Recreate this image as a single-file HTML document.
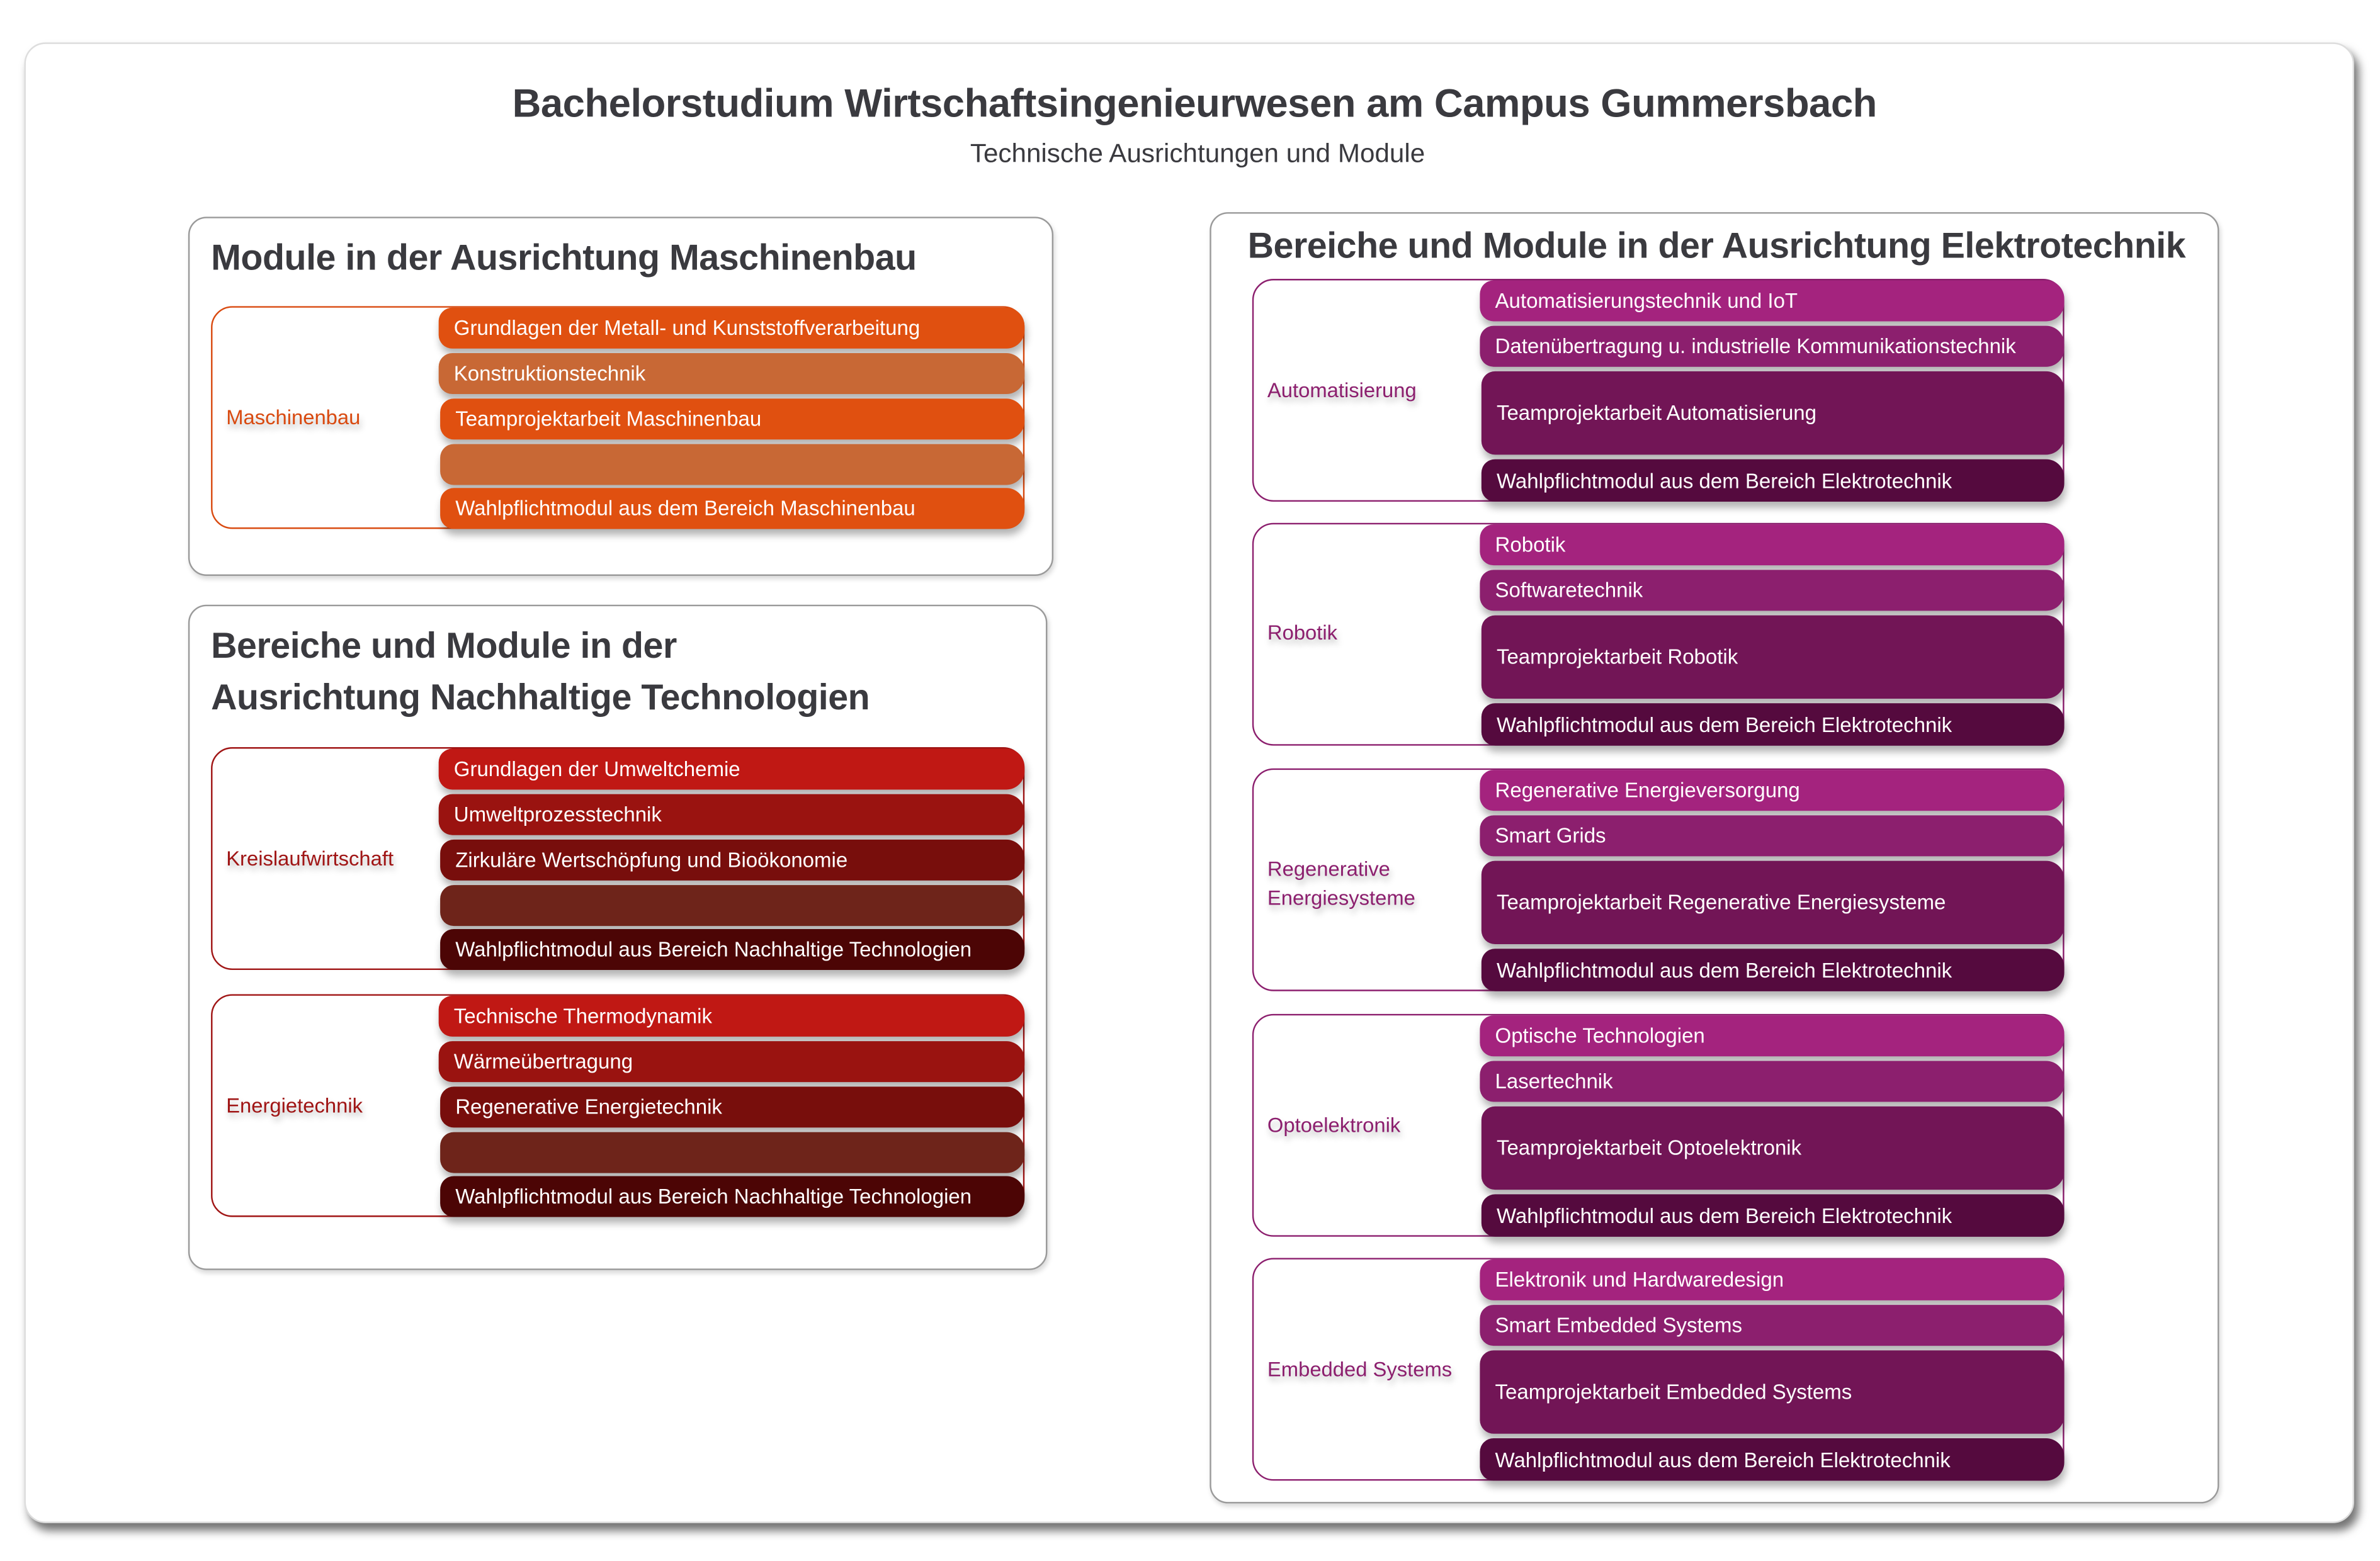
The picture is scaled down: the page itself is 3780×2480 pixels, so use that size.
<!DOCTYPE html>
<html><head><meta charset="utf-8"><style>
html,body{margin:0;padding:0;background:#fff;width:3780px;height:2480px;overflow:hidden}
#w{position:absolute;left:0;top:0;width:1568px;height:1030px;transform:scale(2.4107,2.4078);transform-origin:0 0;font-family:"Liberation Sans",sans-serif;color:#3a3a3f}
.a{position:absolute}
.card{left:16px;top:28px;width:1535px;height:977px;border-radius:14px;background:#fff;box-shadow:3px 5px 6px rgba(0,0,0,.55);border:1px solid #ddd;box-sizing:border-box}
.box{background:#fff;border:1.2px solid #9a9a9a;border-radius:12px;box-sizing:border-box;box-shadow:1px 2px 3px rgba(0,0,0,.15)}
.h{font-weight:bold;font-size:23.8px;white-space:nowrap;letter-spacing:-.2px}
.grp{border:1.6px solid;border-radius:14px;box-sizing:border-box;background:#fff}
.lbl{font-size:13.6px;white-space:nowrap;text-shadow:1px 3px 4px rgba(0,0,0,.25)}
.bar{border-radius:9px 12px 12px 9px;color:#fff;font-size:13.7px;white-space:nowrap;box-sizing:border-box;padding-left:10px;display:flex;align-items:center;box-shadow:1px 4px 5px rgba(0,0,0,.3)}
</style></head><body><div id="w">
<div class="a card"></div>
<div class="a" style="left:0;width:1574px;top:53px;text-align:center;font-weight:bold;font-size:26.3px;letter-spacing:-.2px">Bachelorstudium Wirtschaftsingenieurwesen am Campus Gummersbach</div>
<div class="a" style="left:0;width:1578px;top:91px;text-align:center;font-size:17.5px">Technische Ausrichtungen und Module</div>

<!-- Box 1 -->
<div class="a box" style="left:124px;top:143px;width:570px;height:237px"></div>
<div class="a h" style="left:139px;top:157px">Module in der Ausrichtung Maschinenbau</div>
<div class="a grp" style="left:139px;top:202px;width:536px;height:147px;border-color:#d94a10"></div>
<div class="a lbl" style="left:149px;top:268px;color:#d94a10">Maschinenbau</div>
<div class="a bar" style="left:289px;top:203px;width:386px;height:27px;background:#e05010">Grundlagen der Metall- und Kunststoffverarbeitung</div>
<div class="a bar" style="left:289px;top:233px;width:386px;height:27px;background:#c86835">Konstruktionstechnik</div>
<div class="a bar" style="left:290px;top:263px;width:385px;height:27px;background:#e05010">Teamprojektarbeit Maschinenbau</div>
<div class="a bar" style="left:290px;top:293px;width:385px;height:27px;background:#c86835"></div>
<div class="a bar" style="left:290px;top:322px;width:385px;height:27px;background:#e05010">Wahlpflichtmodul aus dem Bereich Maschinenbau</div>

<!-- Box 2 -->
<div class="a box" style="left:124px;top:399px;width:566px;height:439px"></div>
<div class="a h" style="left:139px;top:410px;line-height:34px">Bereiche und Module in der<br>Ausrichtung Nachhaltige Technologien</div>

<div class="a grp" style="left:139px;top:493px;width:536px;height:147px;border-color:#a01515"></div>
<div class="a lbl" style="left:149px;top:559px;color:#a01515">Kreislaufwirtschaft</div>
<div class="a bar" style="left:289px;top:494px;width:386px;height:27px;background:#c01814">Grundlagen der Umweltchemie</div>
<div class="a bar" style="left:289px;top:524px;width:386px;height:27px;background:#9a1310">Umweltprozesstechnik</div>
<div class="a bar" style="left:290px;top:554px;width:385px;height:27px;background:#780e0c">Zirkuläre Wertschöpfung und Bioökonomie</div>
<div class="a bar" style="left:290px;top:584px;width:385px;height:27px;background:#6e241a"></div>
<div class="a bar" style="left:290px;top:613px;width:385px;height:27px;background:#4c0505">Wahlpflichtmodul aus Bereich Nachhaltige Technologien</div>

<div class="a grp" style="left:139px;top:656px;width:536px;height:147px;border-color:#a01515"></div>
<div class="a lbl" style="left:149px;top:722px;color:#a01515">Energietechnik</div>
<div class="a bar" style="left:289px;top:657px;width:386px;height:27px;background:#c01814">Technische Thermodynamik</div>
<div class="a bar" style="left:289px;top:687px;width:386px;height:27px;background:#9a1310">Wärmeübertragung</div>
<div class="a bar" style="left:290px;top:717px;width:385px;height:27px;background:#780e0c">Regenerative Energietechnik</div>
<div class="a bar" style="left:290px;top:747px;width:385px;height:27px;background:#6e241a"></div>
<div class="a bar" style="left:290px;top:776px;width:385px;height:27px;background:#4c0505">Wahlpflichtmodul aus Bereich Nachhaltige Technologien</div>

<!-- Box 3 -->
<div class="a box" style="left:797px;top:140px;width:665px;height:852px"></div>
<div class="a h" style="left:822px;top:149px">Bereiche und Module in der Ausrichtung Elektrotechnik</div>

<div class="a grp" style="left:825px;top:184px;width:535px;height:147px;border-color:#8c1f6e"></div>
<div class="a lbl" style="left:835px;top:250px;color:#8c1f6e">Automatisierung</div>
<div class="a bar" style="left:975px;top:185px;width:385px;height:27px;background:#a4237e">Automatisierungstechnik und IoT</div>
<div class="a bar" style="left:975px;top:215px;width:385px;height:27px;background:#8c1f6e">Datenübertragung u. industrielle Kommunikationstechnik</div>
<div class="a bar" style="left:976px;top:245px;width:384px;height:55px;background:#721556">Teamprojektarbeit Automatisierung</div>
<div class="a bar" style="left:976px;top:303px;width:384px;height:28px;background:#550a3e">Wahlpflichtmodul aus dem Bereich Elektrotechnik</div>

<div class="a grp" style="left:825px;top:345px;width:535px;height:147px;border-color:#8c1f6e"></div>
<div class="a lbl" style="left:835px;top:410px;color:#8c1f6e">Robotik</div>
<div class="a bar" style="left:975px;top:346px;width:385px;height:27px;background:#a4237e">Robotik</div>
<div class="a bar" style="left:975px;top:376px;width:385px;height:27px;background:#8c1f6e">Softwaretechnik</div>
<div class="a bar" style="left:976px;top:406px;width:384px;height:55px;background:#721556">Teamprojektarbeit Robotik</div>
<div class="a bar" style="left:976px;top:464px;width:384px;height:28px;background:#550a3e">Wahlpflichtmodul aus dem Bereich Elektrotechnik</div>

<div class="a grp" style="left:825px;top:507px;width:535px;height:147px;border-color:#8c1f6e"></div>
<div class="a lbl" style="left:835px;top:564px;color:#8c1f6e;line-height:19px">Regenerative<br>Energiesysteme</div>
<div class="a bar" style="left:975px;top:508px;width:385px;height:27px;background:#a4237e">Regenerative Energieversorgung</div>
<div class="a bar" style="left:975px;top:538px;width:385px;height:27px;background:#8c1f6e">Smart Grids</div>
<div class="a bar" style="left:976px;top:568px;width:384px;height:55px;background:#721556">Teamprojektarbeit Regenerative Energiesysteme</div>
<div class="a bar" style="left:976px;top:626px;width:384px;height:28px;background:#550a3e">Wahlpflichtmodul aus dem Bereich Elektrotechnik</div>

<div class="a grp" style="left:825px;top:669px;width:535px;height:147px;border-color:#8c1f6e"></div>
<div class="a lbl" style="left:835px;top:735px;color:#8c1f6e">Optoelektronik</div>
<div class="a bar" style="left:975px;top:670px;width:385px;height:27px;background:#a4237e">Optische Technologien</div>
<div class="a bar" style="left:975px;top:700px;width:385px;height:27px;background:#8c1f6e">Lasertechnik</div>
<div class="a bar" style="left:976px;top:730px;width:384px;height:55px;background:#721556">Teamprojektarbeit Optoelektronik</div>
<div class="a bar" style="left:976px;top:788px;width:384px;height:28px;background:#550a3e">Wahlpflichtmodul aus dem Bereich Elektrotechnik</div>

<div class="a grp" style="left:825px;top:830px;width:535px;height:147px;border-color:#8c1f6e"></div>
<div class="a lbl" style="left:835px;top:896px;color:#8c1f6e">Embedded Systems</div>
<div class="a bar" style="left:975px;top:831px;width:385px;height:27px;background:#a4237e">Elektronik und Hardwaredesign</div>
<div class="a bar" style="left:975px;top:861px;width:385px;height:27px;background:#8c1f6e">Smart Embedded Systems</div>
<div class="a bar" style="left:975px;top:891px;width:385px;height:55px;background:#721556">Teamprojektarbeit Embedded Systems</div>
<div class="a bar" style="left:975px;top:949px;width:385px;height:28px;background:#550a3e">Wahlpflichtmodul aus dem Bereich Elektrotechnik</div>
</div></body></html>
